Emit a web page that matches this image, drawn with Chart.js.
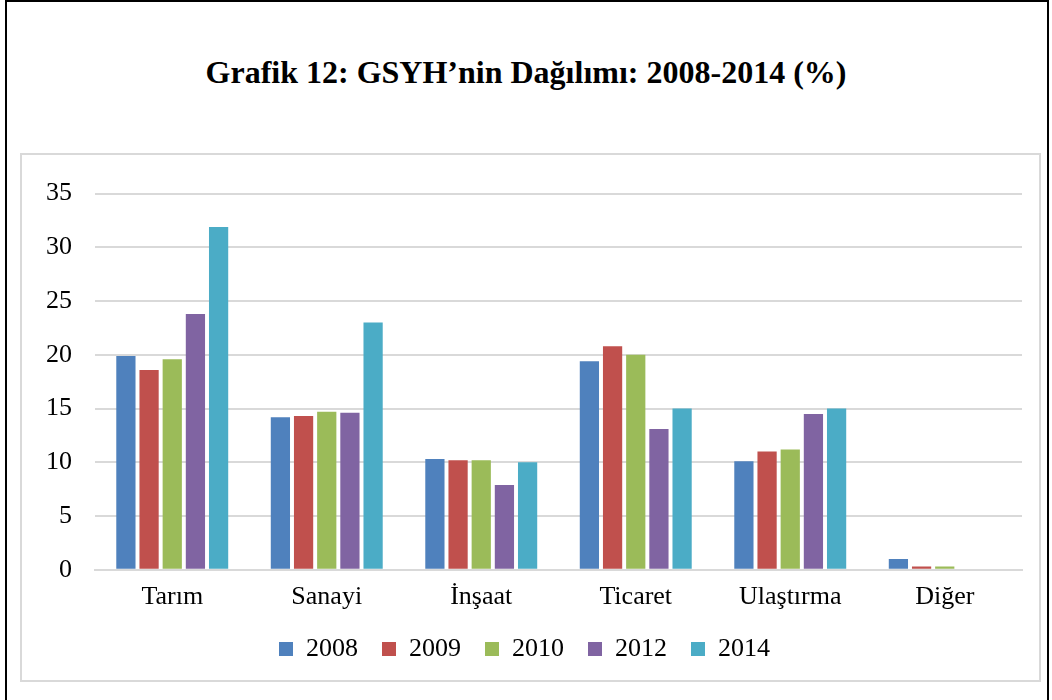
<!DOCTYPE html>
<html>
<head>
<meta charset="utf-8">
<script src="https://cdn.jsdelivr.net/npm/chart.js@4/dist/chart.umd.min.js"></script>
<style>
  body { margin: 0; background: #fff; }
  #page { position: relative; width: 1052px; height: 700px; overflow: hidden; }
  #frame { position: absolute; left: 5px; top: 0; width: 1040px; height: 710px; border: 2px solid #000; }
  #title { position: absolute; left: 0; top: 54px; width: 1052px; text-align: center; line-height: 36px;
           font-family: "Liberation Serif", serif; font-weight: bold; font-size: 32px; color: #000; }
  #box { position: absolute; left: 20px; top: 153px; width: 1017px; height: 525px; border: 2px solid #d9d9d9; }
  #box canvas { display: block; }
</style>
</head>
<body>
<div id="page">
  <div id="frame"></div>
  <div id="title">Grafik 12: GSYH’nin Dağılımı: 2008-2014 (%)</div>
  <div id="box"><canvas id="chart" width="1017" height="525"></canvas></div>
</div>
<script>
// --- data ---
const categories = ['Tarım', 'Sanayi', 'İnşaat', 'Ticaret', 'Ulaştırma', 'Diğer'];
const years = ['2008', '2009', '2010', '2012', '2014'];
const v2008 = [19.9, 14.2, 10.3, 19.4, 10.1, 1.0];
const v2009 = [18.6, 14.3, 10.2, 20.8, 11.0, 0.3];
const v2010 = [19.6, 14.7, 10.2, 20.0, 11.2, 0.3];
const v2012 = [23.8, 14.6, 7.9, 13.1, 14.5, 0];
const v2014 = [31.9, 23.0, 10.0, 15.0, 15.0, 0];
const yTicks = [0, 5, 10, 15, 20, 25, 30, 35];

const colors = ['#4F81BD', '#C0504D', '#9BBB59', '#8064A2', '#4BACC6'];
const seriesValues = [v2008, v2009, v2010, v2012, v2014];

const serif = '"Liberation Serif", "Times New Roman", serif';

// nudge the legend row to the right so it sits where the original one does
const legendShift = {
    id: 'legendShift',
    afterLayout(chart) {
        chart.legend.left += 9;
        chart.legend.right += 9;
    }
};

const ctx = document.getElementById('chart').getContext('2d');
new Chart(ctx, {
    type: 'bar',
    data: {
        labels: categories,
        datasets: years.map((y, i) => ({
            label: y,
            data: seriesValues[i],
            backgroundColor: colors[i],
            borderWidth: 0,
            categoryPercentage: 0.75,
            barPercentage: 0.83
        }))
    },
    options: {
        responsive: false,
        animation: false,
        layout: { padding: { left: 0, right: 17, top: 38, bottom: 8 } },
        scales: {
            x: {
                grid: { display: false, drawTicks: false },
                border: { color: '#d9d9d9', width: 2 },
                ticks: { color: '#000', font: { family: serif, size: 26 }, padding: 12 }
            },
            y: {
                min: 0,
                max: yTicks[yTicks.length - 1],
                afterBuildTicks: (s) => { s.ticks = yTicks.map(v => ({ value: v })); },
                afterFit: (s) => { s.width = 73; },
                grid: { color: '#d9d9d9', lineWidth: 2, drawTicks: false },
                border: { display: false },
                ticks: { color: '#000', font: { family: serif, size: 26 }, padding: 23 }
            }
        },
        plugins: {
            legend: {
                position: 'bottom',
                labels: {
                    color: '#000',
                    font: { family: serif, size: 26 },
                    boxWidth: 14,
                    boxHeight: 14,
                    padding: 11,
                    // trailing spaces widen each item, like the original legend spacing
                    generateLabels: (chart) =>
                        Chart.defaults.plugins.legend.labels.generateLabels(chart)
                            .map(l => Object.assign(l, { text: l.text + '  ' }))
                }
            },
            tooltip: { enabled: false }
        }
    },
    plugins: [legendShift]
});
</script>
</body>
</html>
